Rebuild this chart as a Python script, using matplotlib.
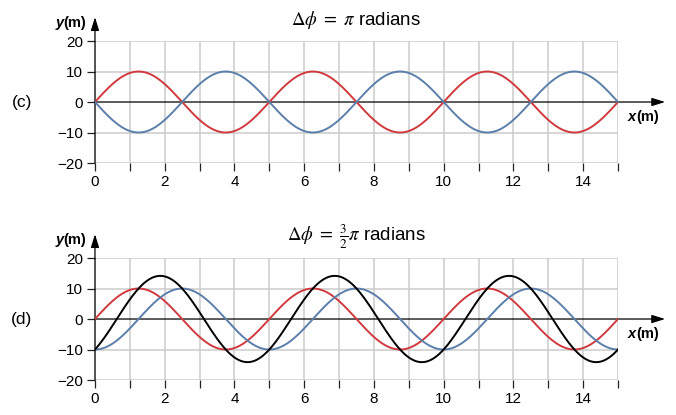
import numpy as np
import matplotlib

matplotlib.use("Agg")
import matplotlib.pyplot as plt
from matplotlib.ticker import FuncFormatter, MultipleLocator

plt.rcParams["font.family"] = ["Liberation Sans", "DejaVu Sans"]
plt.rcParams["mathtext.fontset"] = "stix"

# wave parameters
AMPLITUDE = 10.0
WAVELENGTH = 5.0
X_MAX = 15.0
PANEL_LABELS = ["(c)", "(d)"]
PHASE_SHIFTS = [np.pi, 1.5 * np.pi]
TITLES = [r"$\Delta\phi\ =\ \pi$ radians", r"$\Delta\phi\ =\ \frac{3}{2}\pi$ radians"]
SHOW_SUM = [False, True]
Y_TICKS = [-20, -10, 0, 10, 20]

RED = "#d03a3f"
BLUE = "#5b7faa"
GRID = "#cccccc"

x = np.linspace(0, X_MAX, 600)
k = 2 * np.pi / WAVELENGTH

fig = plt.figure(figsize=(6.76, 4.15), dpi=100)
tops = [0.9012, 0.3783]
height = 0.294

for top, label, dphi, title, show_sum in zip(tops, PANEL_LABELS, PHASE_SHIFTS, TITLES, SHOW_SUM):
    ax = fig.add_axes([0.1405, top - height, 0.7737, height])
    ax.set_xlim(0, X_MAX)
    ax.set_ylim(-20, 20)
    for s in ax.spines.values():
        s.set_visible(False)

    ax.xaxis.set_major_locator(MultipleLocator(1))
    ax.xaxis.set_major_formatter(FuncFormatter(lambda v, p: f"{v:.0f}" if round(v) % 2 == 0 else ""))
    ax.set_yticks(Y_TICKS)
    ax.yaxis.set_major_formatter(FuncFormatter(lambda v, p: f"{v:.0f}".replace("-", "\u2212")))
    ax.tick_params(direction="out", length=6, width=0.9, color="#222222", labelsize=11, pad=2.5)

    for xv in range(0, int(X_MAX) + 1):
        ax.axvline(xv, color=GRID, lw=1.1, zorder=0)
    for yv in Y_TICKS:
        if yv != 0:
            ax.axhline(yv, color=GRID, lw=1.1, zorder=0)

    y1 = AMPLITUDE * np.sin(k * x)
    y2 = AMPLITUDE * np.sin(k * x + dphi)
    ax.plot(x, y1, color=RED, lw=1.4, zorder=3)
    ax.plot(x, y2, color=BLUE, lw=1.4, zorder=3)
    if show_sum:
        ax.plot(x, y1 + y2, color="black", lw=1.4, zorder=4)

    # axes with arrows
    ax.annotate("", xy=(16.35, 0), xytext=(0, 0), annotation_clip=False,
                arrowprops=dict(arrowstyle="-|>,head_length=0.8,head_width=0.25", color="black", lw=0.9,
                                shrinkA=0, shrinkB=0), zorder=2)
    ax.annotate("", xy=(0, 27.8), xytext=(0, -20), annotation_clip=False,
                arrowprops=dict(arrowstyle="-|>,head_length=0.8,head_width=0.25", color="black", lw=0.9,
                                shrinkA=0, shrinkB=0), zorder=2)

    ax.text(-0.9, 25.8, "y", style="italic", weight="bold", ha="right", va="center", fontsize=10.5, clip_on=False)
    ax.text(-0.9, 25.8, "(m)", weight="bold", ha="left", va="center", fontsize=10.5, clip_on=False)
    ax.text(15.51, -4.9, "x", style="italic", weight="bold", ha="right", va="center", fontsize=10.5, clip_on=False)
    ax.text(15.51, -4.9, "(m)", weight="bold", ha="left", va="center", fontsize=10.5, clip_on=False)

    ax.text(-2.1, 0, label, ha="center", va="center", fontsize=12.5, clip_on=False)
    ax.text(7.5, 27.0, title, ha="center", va="center", fontsize=13.5, clip_on=False)

fig.savefig("out.png", dpi=100)
